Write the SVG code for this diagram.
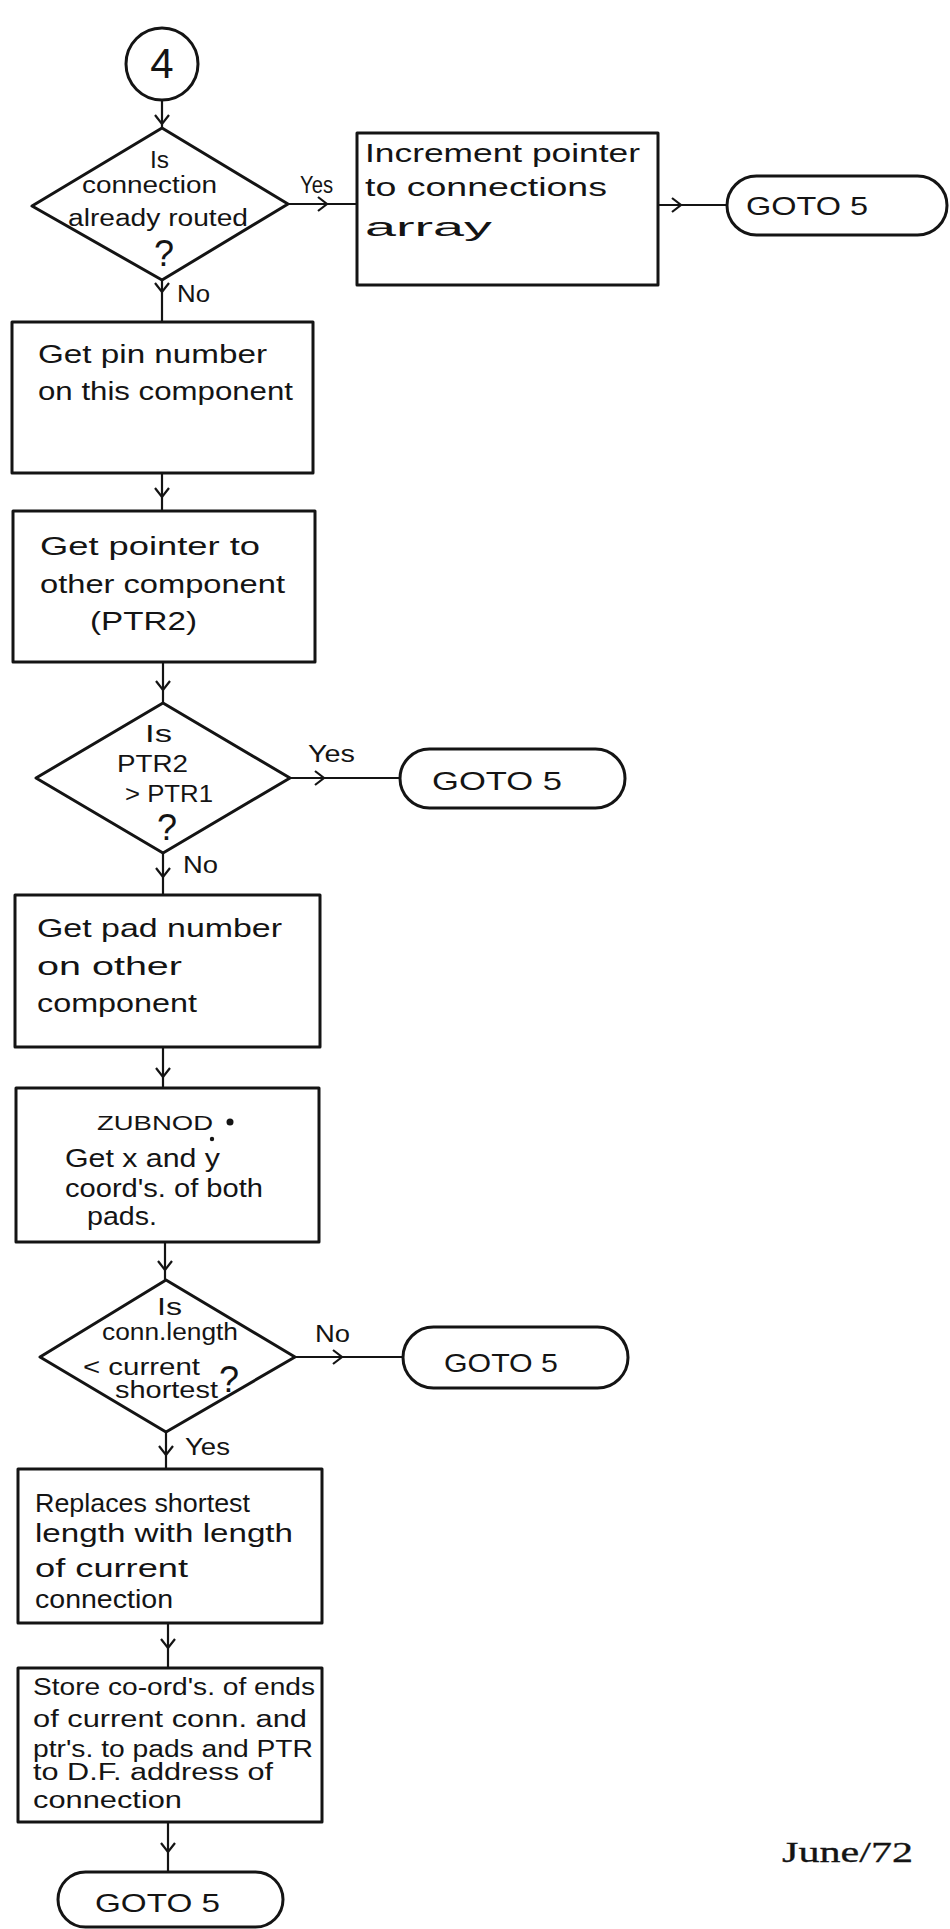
<svg xmlns="http://www.w3.org/2000/svg" width="950" height="1929" viewBox="0 0 950 1929">
  <defs>
    <style>
      .shape { fill: none; stroke: #141414; stroke-width: 3; stroke-linejoin: round; }
      .conn { fill: none; stroke: #141414; stroke-width: 2.2; marker-mid: url(#vhead); }
      .t { font-family: "Liberation Sans", Arial, sans-serif; font-size: 26px; fill: #141414; }
      .s { font-size: 23px; }
      .q { font-size: 36px; }
      .big { font-size: 42px; }
      .cap { font-size: 21px; }
      .date { font-family: "Liberation Serif", "Times New Roman", serif; font-size: 30px; fill: #141414; stroke: #141414; stroke-width: 0.3; }
    </style>
    <!-- open "V" arrowhead placed on the middle vertex of each connector -->
    <marker id="vhead" markerUnits="userSpaceOnUse" markerWidth="20" markerHeight="20" refX="10" refY="10" orient="auto" viewBox="0 0 20 20">
      <path d="M 1 3 L 10 10 L 1 17" fill="none" stroke="#141414" stroke-width="2.2"/>
    </marker>
  </defs>

  <rect width="950" height="1929" fill="#ffffff"/>

  <!-- connectors -->
  <g id="connectors">
    <polyline class="conn" points="162,100 162,124 162,128"/>
    <polyline class="conn" points="288,204 327,204 357,204"/>
    <polyline class="conn" points="658,205 681,205 727,205"/>
    <polyline class="conn" points="162,280 162,292 162,322"/>
    <polyline class="conn" points="162,473 162,497 162,511"/>
    <polyline class="conn" points="163,662 163,690 163,703"/>
    <polyline class="conn" points="290,778 324,778 400,778"/>
    <polyline class="conn" points="163,853 163,877 163,895"/>
    <polyline class="conn" points="163,1047 163,1077 163,1088"/>
    <polyline class="conn" points="165,1242 165,1270 165,1280"/>
    <polyline class="conn" points="295,1357 342,1357 403,1357"/>
    <polyline class="conn" points="166,1432 166,1455 166,1469"/>
    <polyline class="conn" points="168,1623 168,1648 168,1668"/>
    <polyline class="conn" points="168,1822 168,1852 168,1872"/>
  </g>

  <!-- edge labels -->
  <g id="edge-labels">
    <text class="t s" x="300" y="193" textLength="33" lengthAdjust="spacingAndGlyphs">Yes</text>
    <text class="t s" x="177" y="302" textLength="33" lengthAdjust="spacingAndGlyphs">No</text>
    <text class="t s" x="308" y="762" textLength="47" lengthAdjust="spacingAndGlyphs">Yes</text>
    <text class="t s" x="183" y="873" textLength="35" lengthAdjust="spacingAndGlyphs">No</text>
    <text class="t s" x="315" y="1342" textLength="35" lengthAdjust="spacingAndGlyphs">No</text>
    <text class="t s" x="185" y="1455" textLength="45" lengthAdjust="spacingAndGlyphs">Yes</text>
  </g>

  <!-- entry connector -->
  <g id="start4">
    <circle class="shape" cx="162" cy="64" r="36"/>
    <text class="t big" x="162" y="78" text-anchor="middle">4</text>
  </g>

  <g id="dec-routed">
    <polygon class="shape" points="162,128 288,204 162,280 32,206"/>
    <text class="t s" x="150" y="168" textLength="19" lengthAdjust="spacingAndGlyphs">Is</text>
    <text class="t s" x="82" y="193" textLength="135" lengthAdjust="spacingAndGlyphs">connection</text>
    <text class="t s" x="68" y="226" textLength="180" lengthAdjust="spacingAndGlyphs">already routed</text>
    <text class="t q" x="164" y="266" text-anchor="middle">?</text>
  </g>

  <g id="inc-pointer">
    <rect class="shape" x="357" y="133" width="301" height="152"/>
    <text class="t" x="365" y="162" textLength="275" lengthAdjust="spacingAndGlyphs">Increment pointer</text>
    <text class="t" x="365" y="196" textLength="242" lengthAdjust="spacingAndGlyphs">to connections</text>
    <text class="t" x="365" y="236" textLength="127" lengthAdjust="spacingAndGlyphs">array</text>
  </g>

  <g id="goto5-a">
    <rect class="shape" x="727" y="176" width="220" height="59" rx="29.5"/>
    <text class="t" x="746" y="215" textLength="122" lengthAdjust="spacingAndGlyphs">GOTO 5</text>
  </g>

  <g id="pin-number">
    <rect class="shape" x="12" y="322" width="301" height="151"/>
    <text class="t" x="38" y="363" textLength="229" lengthAdjust="spacingAndGlyphs">Get pin number</text>
    <text class="t" x="38" y="400" textLength="255" lengthAdjust="spacingAndGlyphs">on this component</text>
  </g>

  <g id="ptr2">
    <rect class="shape" x="13" y="511" width="302" height="151"/>
    <text class="t" x="40" y="555" textLength="220" lengthAdjust="spacingAndGlyphs">Get pointer to</text>
    <text class="t" x="40" y="593" textLength="245" lengthAdjust="spacingAndGlyphs">other component</text>
    <text class="t" x="90" y="630" textLength="107" lengthAdjust="spacingAndGlyphs">(PTR2)</text>
  </g>

  <g id="dec-ptr">
    <polygon class="shape" points="163,703 290,778 163,853 36,778"/>
    <text class="t s" x="145" y="742" textLength="27" lengthAdjust="spacingAndGlyphs">Is</text>
    <text class="t s" x="117" y="772" textLength="71" lengthAdjust="spacingAndGlyphs">PTR2</text>
    <text class="t s" x="125" y="802" textLength="88" lengthAdjust="spacingAndGlyphs">&gt; PTR1</text>
    <text class="t q" x="167" y="840" text-anchor="middle">?</text>
  </g>

  <g id="goto5-b">
    <rect class="shape" x="400" y="749" width="225" height="59" rx="29.5"/>
    <text class="t" x="432" y="790" textLength="130" lengthAdjust="spacingAndGlyphs">GOTO 5</text>
  </g>

  <g id="pad-number">
    <rect class="shape" x="15" y="895" width="305" height="152"/>
    <text class="t" x="37" y="937" textLength="245" lengthAdjust="spacingAndGlyphs">Get pad number</text>
    <text class="t" x="37" y="975" textLength="145" lengthAdjust="spacingAndGlyphs">on other</text>
    <text class="t" x="37" y="1012" textLength="160" lengthAdjust="spacingAndGlyphs">component</text>
  </g>

  <g id="zubnod">
    <rect class="shape" x="16" y="1088" width="303" height="154"/>
    <text class="t cap" x="97" y="1130" textLength="116" lengthAdjust="spacingAndGlyphs">ZUBNOD</text>
    <circle cx="230" cy="1122" r="3.5" fill="#141414"/>
    <circle cx="212" cy="1139" r="2.2" fill="#141414"/>
    <text class="t" x="65" y="1167" textLength="155" lengthAdjust="spacingAndGlyphs">Get x and y</text>
    <text class="t" x="65" y="1197" textLength="198" lengthAdjust="spacingAndGlyphs">coord's. of both</text>
    <text class="t" x="87" y="1225" textLength="70" lengthAdjust="spacingAndGlyphs">pads.</text>
  </g>

  <g id="dec-length">
    <polygon class="shape" points="166,1280 295,1357 166,1432 40,1357"/>
    <text class="t s" x="157" y="1315" textLength="25" lengthAdjust="spacingAndGlyphs">Is</text>
    <text class="t s" x="102" y="1340" textLength="136" lengthAdjust="spacingAndGlyphs">conn.length</text>
    <text class="t s" x="83" y="1375" textLength="117" lengthAdjust="spacingAndGlyphs">&lt; current</text>
    <text class="t q" x="229" y="1392" text-anchor="middle">?</text>
    <text class="t s" x="115" y="1398" textLength="103" lengthAdjust="spacingAndGlyphs">shortest</text>
  </g>

  <g id="goto5-c">
    <rect class="shape" x="403" y="1327" width="225" height="61" rx="30.5"/>
    <text class="t" x="444" y="1372" textLength="114" lengthAdjust="spacingAndGlyphs">GOTO 5</text>
  </g>

  <g id="replace-shortest">
    <rect class="shape" x="18" y="1469" width="304" height="154"/>
    <text class="t" x="35" y="1512" textLength="215" lengthAdjust="spacingAndGlyphs">Replaces shortest</text>
    <text class="t" x="35" y="1542" textLength="258" lengthAdjust="spacingAndGlyphs">length with length</text>
    <text class="t" x="35" y="1577" textLength="153" lengthAdjust="spacingAndGlyphs">of current</text>
    <text class="t" x="35" y="1608" textLength="138" lengthAdjust="spacingAndGlyphs">connection</text>
  </g>

  <g id="store-coords">
    <rect class="shape" x="18" y="1668" width="304" height="154"/>
    <text class="t s" x="33" y="1695" textLength="282" lengthAdjust="spacingAndGlyphs">Store co-ord's. of ends</text>
    <text class="t s" x="33" y="1727" textLength="274" lengthAdjust="spacingAndGlyphs">of current conn. and</text>
    <text class="t s" x="33" y="1757" textLength="280" lengthAdjust="spacingAndGlyphs">ptr's. to pads and PTR</text>
    <text class="t s" x="33" y="1780" textLength="240" lengthAdjust="spacingAndGlyphs">to D.F. address of</text>
    <text class="t s" x="33" y="1808" textLength="149" lengthAdjust="spacingAndGlyphs">connection</text>
  </g>

  <g id="goto5-d">
    <rect class="shape" x="58" y="1872" width="225" height="55" rx="27.5"/>
    <text class="t" x="95" y="1912" textLength="125" lengthAdjust="spacingAndGlyphs">GOTO 5</text>
  </g>

  <text class="date" x="782" y="1862" textLength="131" lengthAdjust="spacingAndGlyphs">June/72</text>
</svg>
